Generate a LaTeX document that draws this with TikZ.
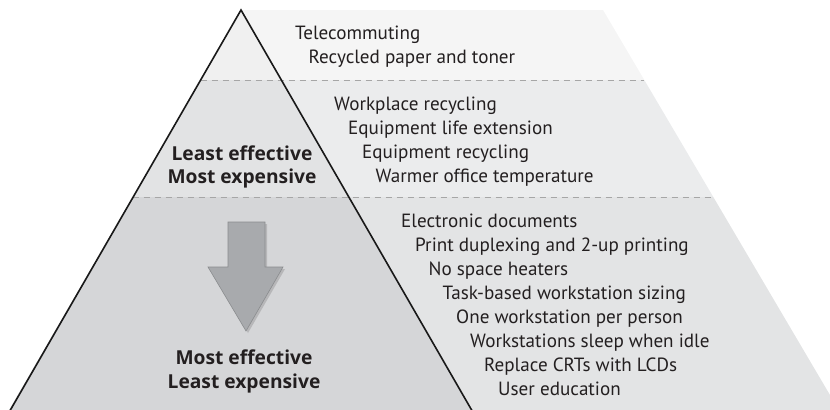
\documentclass[tikz,border=0pt]{standalone}
\usepackage{fontspec}
\setmainfont{PT Sans}
\newfontfamily\boldlabel{Open Sans}
\usetikzlibrary{shadows}
\definecolor{outA}{HTML}{F5F5F5}
\definecolor{outB}{HTML}{EBECED}
\definecolor{outC}{HTML}{E3E4E5}
\definecolor{inA}{HTML}{F0F0F0}
\definecolor{inB}{HTML}{E2E3E4}
\definecolor{inC}{HTML}{D5D6D8}
\definecolor{txt}{HTML}{231F20}
\definecolor{arrfill}{HTML}{A8AAAD}
\definecolor{arrline}{HTML}{8A8C8E}
\tikzset{
  item/.style={anchor=base west, inner sep=0pt, font=\fontsize{19.2}{22}\selectfont, text=txt},
  bold/.style={anchor=base, inner sep=0pt, font=\boldlabel\fontsize{19.3}{22}\selectfont\bfseries, text=txt},
  sep/.style={draw=black!35, dash pattern=on 6bp off 5bp, line width=0.8bp},
  tri/.style={draw=black!90, line width=1.6bp, line join=miter}
}
\begin{document}
\begin{tikzpicture}[x=1bp,y=-1bp]
\useasboundingbox (0,0) rectangle (830,409);
\begin{scope}
\clip (0,0) rectangle (830,409);
% outside bands (full trapezoid pieces)
\fill[outA] (241,10) -- (603,10) -- (644.3,80) -- (200.5,80) -- cycle;
\fill[outB] (200.5,80) -- (644.3,80) -- (713.3,197) -- (132.7,197) -- cycle;
\fill[outC] (132.7,197) -- (713.3,197) -- (840,412) -- (8,412) -- cycle;
% inside triangle bands
\fill[inA] (241,10) -- (281.3,80) -- (200.5,80) -- cycle;
\fill[inB] (200.5,80) -- (281.3,80) -- (348.7,197) -- (132.7,197) -- cycle;
\fill[inC] (132.7,197) -- (348.7,197) -- (472,412) -- (8,412) -- cycle;
% separators
\coordinate (s1a) at (200.5,80); \coordinate (s1b) at (644.3,80);
\coordinate (s2a) at (132.7,197); \coordinate (s2b) at (713.3,197);
\draw[sep] (s1a) -- (s1b);
\draw[sep] (s2a) -- (s2b);
% triangle
\coordinate (apex) at (241,10);
\coordinate (bl) at (7.5,415);
\coordinate (br) at (474.5,415);
\draw[tri] (bl) -- (apex) -- (br);
\end{scope}
% arrow
\draw[arrline, fill=arrfill, line width=0.6bp, drop shadow={shadow xshift=2bp, shadow yshift=-2bp, opacity=0.35}]
  (228,222) -- (265,222) -- (265,267) -- (283,267) -- (246,331) -- (208,267) -- (228,267) -- cycle;
% texts
\node[item] (t1) at (295,39) {Telecommuting};
\node[item] (t2) at (308.5,63) {Recycled paper and toner};
\node[item] (m1) at (334,110) {Workplace recycling};
\node[item] (m2) at (348,134) {Equipment life extension};
\node[item] (m3) at (362,158) {Equipment recycling};
\node[item] (m4) at (375.5,182) {Warmer office temperature};
\node[item] (b1) at (401,227) {Electronic documents};
\node[item] (b2) at (415,251) {Print duplexing and 2-up printing};
\node[item] (b3) at (428.5,275) {No space heaters};
\node[item] (b4) at (442.5,299) {Task-based workstation sizing};
\node[item] (b5) at (456,323) {One workstation per person};
\node[item] (b6) at (470,347) {Workstations sleep when idle};
\node[item] (b7) at (484,371) {Replace CRTs with LCDs};
\node[item] (b8) at (498,395) {User education};
\node[bold] (l1) at (242,160) {Least effective};
\node[bold] (l2) at (242,183) {Most expensive};
\node[bold] (l3) at (244,364) {Most effective};
\node[bold] (l4) at (244,388) {Least expensive};
\end{tikzpicture}
\end{document}
